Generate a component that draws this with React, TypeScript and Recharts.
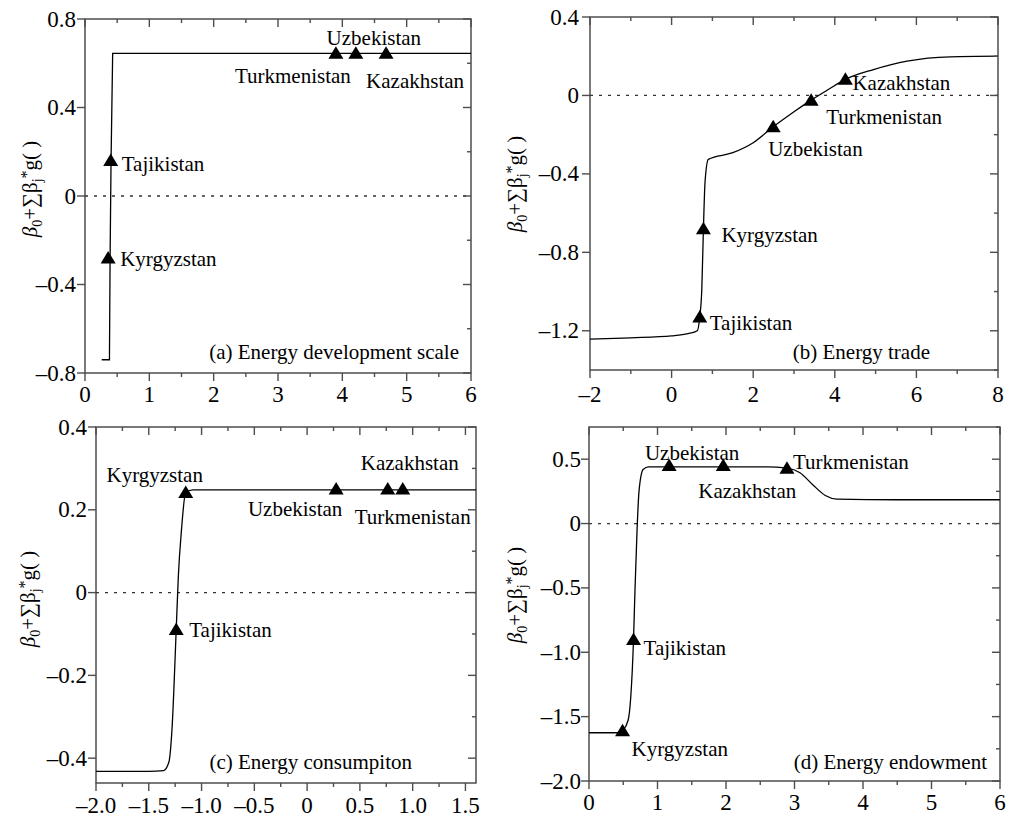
import React from 'react';
import { ComposedChart, Line, Scatter, XAxis, YAxis, ReferenceLine, ReferenceArea } from 'recharts';

const FONT = '"Liberation Serif", "Times New Roman", Times, serif';
const AXIS = '#4d4d4d';

// (a) Energy development scale
const aCurveX = [0.26, 0.38, 0.39, 0.405, 0.43, 6];
const aCurveY = [-0.74, -0.74, -0.28, 0.16, 0.645, 0.645];
const aCountries = ['Kyrgyzstan', 'Tajikistan', 'Turkmenistan', 'Uzbekistan', 'Kazakhstan'];
const aPointX = [0.36, 0.4, 3.9, 4.21, 4.68];
const aPointY = [-0.28, 0.16, 0.645, 0.645, 0.645];
const aXMajor = [0, 1, 2, 3, 4, 5, 6];
const aXMinor = [0.5, 1.5, 2.5, 3.5, 4.5, 5.5];
const aYMajor = [-0.8, -0.4, 0, 0.4, 0.8];
const aYMinor = [-0.6, -0.2, 0.2, 0.6];

// (b) Energy trade
const bCurveX = [-2, -1, 0, 0.4, 0.63, 0.69, 0.74, 0.78, 0.82, 0.9, 1.5, 2.0, 2.49, 3.0, 3.42, 3.84, 4.26, 4.95, 5.77, 6.83, 8];
const bCurveY = [-1.243, -1.236, -1.226, -1.215, -1.2, -1.13, -0.99, -0.68, -0.44, -0.326, -0.292, -0.241, -0.16, -0.083, -0.024, 0.03, 0.082, 0.132, 0.175, 0.197, 0.2];
const bCountries = ['Tajikistan', 'Kyrgyzstan', 'Uzbekistan', 'Turkmenistan', 'Kazakhstan'];
const bPointX = [0.69, 0.78, 2.49, 3.42, 4.26];
const bPointY = [-1.13, -0.68, -0.16, -0.024, 0.082];
const bXMajor = [-2, 0, 2, 4, 6, 8];
const bXMinor = [-1, 1, 3, 5, 7];
const bYMajor = [-1.2, -0.8, -0.4, 0, 0.4];
const bYMinor = [-1.4, -1.0, -0.6, -0.2, 0.2];

// (c) Energy consumpiton
const cCurveX = [-2, -1.5, -1.36, -1.31, -1.28, -1.24, -1.22, -1.19, -1.15, -1.08, 1.6];
const cCurveY = [-0.432, -0.432, -0.43, -0.41, -0.33, -0.089, 0.039, 0.152, 0.242, 0.248, 0.248];
const cCountries = ['Tajikistan', 'Kyrgyzstan', 'Uzbekistan', 'Kazakhstan', 'Turkmenistan'];
const cPointX = [-1.24, -1.15, 0.275, 0.764, 0.906];
const cPointY = [-0.089, 0.242, 0.25, 0.25, 0.25];
const cXMajor = [-2, -1.5, -1, -0.5, 0, 0.5, 1, 1.5];
const cXMinor = [-1.75, -1.25, -0.75, -0.25, 0.25, 0.75, 1.25];
const cYMajor = [-0.4, -0.2, 0, 0.2, 0.4];
const cYMinor = [-0.3, -0.1, 0.1, 0.3];

// (d) Energy endowment
const dCurveX = [0, 0.45, 0.49, 0.57, 0.61, 0.65, 0.67, 0.7, 0.73, 0.79, 0.87, 1.17, 1.96, 2.6, 2.89, 3.08, 3.27, 3.45, 3.62, 4.5, 6];
const dCurveY = [-1.625, -1.625, -1.61, -1.53, -1.345, -0.9, -0.54, -0.073, 0.25, 0.42, 0.44, 0.44, 0.44, 0.44, 0.43, 0.395, 0.3, 0.218, 0.19, 0.185, 0.185];
const dCountries = ['Kyrgyzstan', 'Tajikistan', 'Uzbekistan', 'Kazakhstan', 'Turkmenistan'];
const dPointX = [0.49, 0.65, 1.17, 1.96, 2.89];
const dPointY = [-1.61, -0.9, 0.45, 0.45, 0.43];
const dXMajor = [0, 1, 2, 3, 4, 5, 6];
const dXMinor = [0.5, 1.5, 2.5, 3.5, 4.5, 5.5];
const dYMajor = [-2, -1.5, -1, -0.5, 0, 0.5];
const dYMinor = [-1.75, -1.25, -0.75, -0.25, 0.25, 0.75];

type Anchor = 'start' | 'middle' | 'end';
type Offset = { dx: number; dy: number; anchor: Anchor };

const zip = (xs: number[], ys: number[]) => xs.map((x, i) => ({ x, y: ys[i] }));
const pts = (names: string[], xs: number[], ys: number[]) =>
  names.map((name, i) => ({ name, x: xs[i], y: ys[i] }));

const fmt = (v: number, digits: number) =>
  v === 0 ? '0' : (v < 0 ? '\u2013' : '') + Math.abs(v).toFixed(digits);

const panels = [
  {
    key: 'a', left: 0, top: 0, width: 490, height: 410,
    plot: { x: 85, y: 19, w: 386, h: 354 },
    xDomain: [0, 6], yDomain: [-0.8, 0.8],
    xMajor: aXMajor, xMinor: aXMinor, yMajor: aYMajor, yMinor: aYMinor, xDigits: 0, yDigits: 1,
    curve: zip(aCurveX, aCurveY), points: pts(aCountries, aPointX, aPointY), smooth: false,
    offsets: {
      Kyrgyzstan: { dx: 12, dy: 1, anchor: 'start' },
      Tajikistan: { dx: 11, dy: 3, anchor: 'start' },
      Turkmenistan: { dx: -43, dy: 23, anchor: 'middle' },
      Uzbekistan: { dx: 18, dy: -15, anchor: 'middle' },
      Kazakhstan: { dx: 29, dy: 28, anchor: 'middle' },
    } as Record<string, Offset>,
    caption: '(a) Energy development scale', captionPos: [12, 21],
    xLabelGap: 29, yLabelGap: 9, yTitle: [37, 189],
  },
  {
    key: 'b', left: 500, top: 0, width: 509, height: 410,
    plot: { x: 90, y: 17, w: 408, h: 353 },
    xDomain: [-2, 8], yDomain: [-1.4, 0.4],
    xMajor: bXMajor, xMinor: bXMinor, yMajor: bYMajor, yMinor: bYMinor, xDigits: 0, yDigits: 1,
    curve: zip(bCurveX, bCurveY), points: pts(bCountries, bPointX, bPointY), smooth: true,
    offsets: {
      Tajikistan: { dx: 10, dy: 6, anchor: 'start' },
      Kyrgyzstan: { dx: 18, dy: 6, anchor: 'start' },
      Uzbekistan: { dx: -5, dy: 22, anchor: 'start' },
      Turkmenistan: { dx: 15, dy: 17, anchor: 'start' },
      Kazakhstan: { dx: 7, dy: 4, anchor: 'start' },
    } as Record<string, Offset>,
    caption: '(b) Energy trade', captionPos: [68, 18],
    xLabelGap: 32, yLabelGap: 11, yTitle: [22, 184],
  },
  {
    key: 'c', left: 0, top: 410, width: 490, height: 409,
    plot: { x: 96, y: 17, w: 380, h: 356 },
    xDomain: [-2, 1.6], yDomain: [-0.46, 0.4],
    xMajor: cXMajor, xMinor: cXMinor, yMajor: cYMajor, yMinor: cYMinor, xDigits: 1, yDigits: 1,
    curve: zip(cCurveX, cCurveY), points: pts(cCountries, cPointX, cPointY), smooth: true,
    offsets: {
      Tajikistan: { dx: 13, dy: 1, anchor: 'start' },
      Kyrgyzstan: { dx: -31, dy: -17, anchor: 'middle' },
      Uzbekistan: { dx: -41, dy: 20, anchor: 'middle' },
      Kazakhstan: { dx: 22, dy: -26, anchor: 'middle' },
      Turkmenistan: { dx: 10, dy: 28, anchor: 'middle' },
    } as Record<string, Offset>,
    caption: '(c) Energy consumpiton', captionPos: [64, 21],
    xLabelGap: 30, yLabelGap: 9, yTitle: [35, 189],
  },
  {
    key: 'd', left: 500, top: 410, width: 509, height: 409,
    plot: { x: 89, y: 17, w: 411, h: 354 },
    xDomain: [0, 6], yDomain: [-2, 0.75],
    xMajor: dXMajor, xMinor: dXMinor, yMajor: dYMajor, yMinor: dYMinor, xDigits: 0, yDigits: 1,
    curve: zip(dCurveX, dCurveY), points: pts(dCountries, dPointX, dPointY), smooth: true,
    offsets: {
      Kyrgyzstan: { dx: 9, dy: 18, anchor: 'start' },
      Tajikistan: { dx: 10, dy: 9, anchor: 'start' },
      Uzbekistan: { dx: 23, dy: -13, anchor: 'middle' },
      Kazakhstan: { dx: 24, dy: 25, anchor: 'middle' },
      Turkmenistan: { dx: 6, dy: -6, anchor: 'start' },
    } as Record<string, Offset>,
    caption: '(d) Energy endowment', captionPos: [13, 19],
    xLabelGap: 29, yLabelGap: 8, yTitle: [22, 185],
  },
];

type Panel = (typeof panels)[number];

const Chart: React.FC<{ p: Panel }> = ({ p }) => {
  const top = p.plot.y;
  const bottom = p.plot.y + p.plot.h;
  const left = p.plot.x;
  const right = p.plot.x + p.plot.w;
  const xTicks = [...p.xMajor, ...p.xMinor].sort((a, b) => a - b);
  const yTicks = [...p.yMajor, ...p.yMinor].sort((a, b) => a - b);

  const xTick = (props: any) => {
    const { x, payload } = props;
    const major = p.xMajor.includes(payload.value);
    const len = major ? 8 : 4;
    return (
      <g>
        <line x1={x} x2={x} y1={bottom} y2={bottom + len} stroke={AXIS} strokeWidth={1.4} />
        <line x1={x} x2={x} y1={top} y2={top + len} stroke={AXIS} strokeWidth={1.4} />
        {major && (
          <text x={x} y={bottom + p.xLabelGap} textAnchor="middle" fontSize={23} fontFamily={FONT} fill="#000">
            {fmt(payload.value, p.xDigits)}
          </text>
        )}
      </g>
    );
  };

  const yTick = (props: any) => {
    const { y, payload } = props;
    const major = p.yMajor.includes(payload.value);
    const len = major ? 8 : 4;
    return (
      <g>
        {major && <line x1={left - len} x2={left} y1={y} y2={y} stroke={AXIS} strokeWidth={1.4} />}
        <line x1={right - len} x2={right} y1={y} y2={y} stroke={AXIS} strokeWidth={1.4} />
        {major && (
          <text x={left - p.yLabelGap} y={y} textAnchor="end" dominantBaseline="central" fontSize={23} fontFamily={FONT} fill="#000">
            {fmt(payload.value, p.yDigits)}
          </text>
        )}
      </g>
    );
  };

  const marker = (props: any) => {
    const { cx, cy, payload } = props;
    const o = p.offsets[payload.name];
    return (
      <g>
        <path d={`M${cx},${cy - 7}L${cx + 7.5},${cy + 5.5}L${cx - 7.5},${cy + 5.5}Z`} fill="#000" />
        <text x={cx + o.dx} y={cy + o.dy} textAnchor={o.anchor} dominantBaseline="central" fontSize={21} fontFamily={FONT} fill="#000">
          {payload.name}
        </text>
      </g>
    );
  };

  const yTitle = () => {
    const [tx, ty] = p.yTitle;
    return (
      <text transform={`rotate(-90 ${tx} ${ty})`} x={tx} y={ty} textAnchor="middle" fontSize={21} fontFamily={FONT} fill="#000">
        <tspan fontStyle="italic">β</tspan>
        <tspan fontSize={14} dy={5}>0</tspan>
        <tspan dy={-5}>+∑β</tspan>
        <tspan fontSize={14} dy={5}>j</tspan>
        <tspan fontSize={16} dy={-10}>*</tspan>
        <tspan dy={5}>g( )</tspan>
      </text>
    );
  };

  const caption = () => {
    const [cr, cb] = p.captionPos;
    return (
      <text x={right - cr} y={bottom - cb} textAnchor="end" dominantBaseline="central" fontSize={21} fontFamily={FONT} fill="#000">
        {p.caption}
      </text>
    );
  };

  return (
    <div style={{ position: 'absolute', left: p.left, top: p.top, width: p.width, height: p.height }}>
      <ComposedChart
        width={p.width}
        height={p.height}
        margin={{ top: p.plot.y, right: p.width - right, left: 0, bottom: 0 }}
      >
        <XAxis
          type="number"
          dataKey="x"
          domain={p.xDomain}
          allowDataOverflow
          ticks={xTicks}
          interval={0}
          height={p.height - bottom}
          axisLine={false}
          tickLine={false}
          tick={xTick}
        />
        <YAxis
          type="number"
          dataKey="y"
          domain={p.yDomain}
          allowDataOverflow
          ticks={yTicks}
          interval={0}
          width={p.plot.x}
          axisLine={false}
          tickLine={false}
          tick={yTick}
          label={{ content: yTitle }}
        />
        <ReferenceArea
          x1={p.xDomain[0]}
          x2={p.xDomain[1]}
          y1={p.yDomain[0]}
          y2={p.yDomain[1]}
          fill="none"
          fillOpacity={0}
          stroke={AXIS}
          strokeWidth={1.5}
          ifOverflow="visible"
          label={{ content: caption }}
        />
        <ReferenceLine y={0} stroke="#333" strokeDasharray="3 6" strokeWidth={1.3} />
        <Line
          data={p.curve}
          dataKey="y"
          type={p.smooth ? 'monotone' : 'linear'}
          stroke="#000"
          strokeWidth={1.3}
          dot={false}
          activeDot={false}
          isAnimationActive={false}
        />
        <Scatter data={p.points} dataKey="y" shape={marker} isAnimationActive={false} />
      </ComposedChart>
    </div>
  );
}

export default function App() {
  return (
    <div style={{ position: 'absolute', left: 0, top: 0, width: 1009, height: 819, background: '#fff' }}>
      {panels.map((p) => (
        <Chart key={p.key} p={p} />
      ))}
    </div>
  );
}
